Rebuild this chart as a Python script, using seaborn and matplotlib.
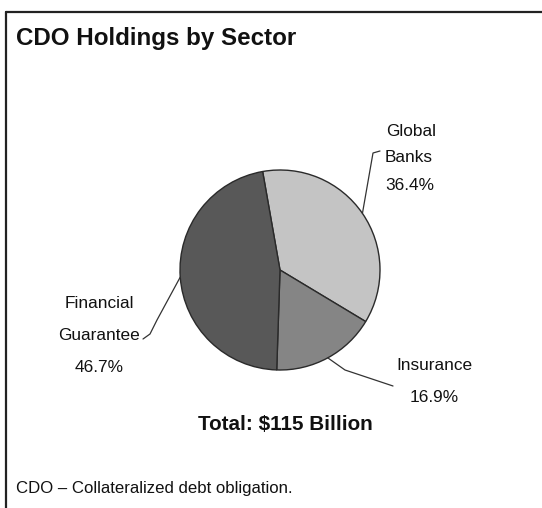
import numpy as np
import matplotlib
matplotlib.use("Agg")
import matplotlib.pyplot as plt
from matplotlib.lines import Line2D
import seaborn as sns

# Sector shares of CDO holdings (percent of total)
sectors = ["Global Banks", "Insurance", "Financial Guarantee"]
shares = [36.4, 16.9, 46.7]
label_lines = [["Global", "Banks"], ["Insurance"], ["Financial", "Guarantee"]]
title = "CDO Holdings by Sector"
total_note = "Total: $115 Billion"
footnote = "CDO \u2013 Collateralized debt obligation."

sns.set_theme(style="white")
plt.rcParams["font.family"] = ["Liberation Sans", "DejaVu Sans"]

W, H = 542, 508
fig = plt.figure(figsize=(W / 100, H / 100), dpi=100)
fig.patch.set_facecolor("white")

def fx(x):
    return x / W

def fy(y):
    return 1 - y / H

# pie axes: centre (280, 270) px, radius 100 px
cx, cy, r = 280, 270, 100
ax = fig.add_axes([fx(cx - r), fy(cy + r), 2 * r / W, 2 * r / H])

greys = ["#c4c4c4", "#858585", "#585858"]
wedges, _ = ax.pie(
    shares, colors=greys, startangle=100, counterclock=False, radius=1,
    wedgeprops=dict(edgecolor="#2a2a2a", linewidth=1.0),
)
ax.set_xlim(-1, 1)
ax.set_ylim(-1, 1)
ax.set_aspect("equal")
ax.axis("off")

def edge_px(w):
    mid = np.deg2rad((w.theta1 + w.theta2) / 2)
    return cx + r * np.cos(mid), cy - r * np.sin(mid)

def polyline(pts):
    xs = [fx(p[0]) for p in pts]
    ys = [fy(p[1]) for p in pts]
    fig.add_artist(Line2D(xs, ys, transform=fig.transFigure,
                          color="#333333", linewidth=0.9))

lab_kw = dict(fontsize=12.4, color="#111111")

# Global Banks
e = edge_px(wedges[0])
polyline([e, (373, 153), (380, 151)])
fig.text(fx(386), fy(132), label_lines[0][0], ha="left", va="center", **lab_kw)
fig.text(fx(385), fy(158), label_lines[0][1], ha="left", va="center", **lab_kw)
fig.text(fx(385), fy(185), f"{shares[0]:.1f}%", ha="left", va="center", **lab_kw)

# Insurance
e = edge_px(wedges[1])
polyline([e, (345, 370), (393, 386)])
fig.text(fx(434), fy(366), label_lines[1][0], ha="center", va="center", **lab_kw)
fig.text(fx(434), fy(398), f"{shares[1]:.1f}%", ha="center", va="center", **lab_kw)

# Financial Guarantee
e = edge_px(wedges[2])
polyline([e, (157, 320), (150, 334), (143, 339)])
fig.text(fx(99), fy(303), label_lines[2][0], ha="center", va="center", **lab_kw)
fig.text(fx(99), fy(336), label_lines[2][1], ha="center", va="center", **lab_kw)
fig.text(fx(99), fy(368), f"{shares[2]:.1f}%", ha="center", va="center", **lab_kw)

# headings and notes
fig.text(fx(16), fy(38), title, ha="left", va="center",
         fontsize=17.4, fontweight="bold", color="#111111")
fig.text(fx(285), fy(425), total_note, ha="center", va="center",
         fontsize=14.9, fontweight="bold", color="#111111")
fig.text(fx(16), fy(489), footnote, ha="left", va="center",
         fontsize=12.1, color="#111111")

# panel frame (top and left edges)
fig.add_artist(Line2D([fx(5.5), 1], [fy(11.5), fy(11.5)],
                      transform=fig.transFigure, color="#222222", linewidth=1.6))
fig.add_artist(Line2D([fx(5.5), fx(5.5)], [fy(11.5), 0],
                      transform=fig.transFigure, color="#222222", linewidth=1.6))

fig.savefig("out.png", dpi=100, facecolor="white")
